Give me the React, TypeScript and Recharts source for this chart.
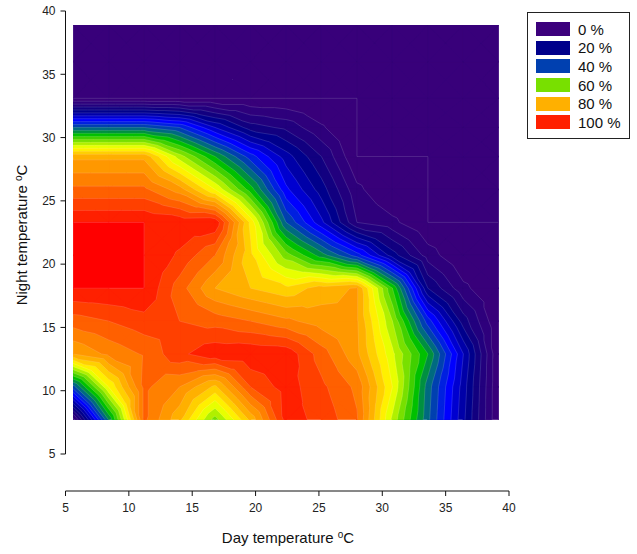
import React from 'react';
import { ScatterChart, Scatter, XAxis, YAxis, Legend } from 'recharts';

const dayTemps = [5.6, 8.4, 11.2, 14, 16.8, 19.6, 22.4, 25.2, 28, 30.8, 33.6, 36.4, 39.2];
const nightTemps = [7.7, 10.3, 12.9, 15.5, 18.1, 20.7, 23.3, 25.9, 28.5, 30.8, 33.1, 36, 38.9];

// response in %, one row per night temperature, bottom row first
const response = [
  [2, 44, 89, 77, 58, 77, 97.5, 95, 88.5, 63, 41, 21, 0],
  [38, 68, 89, 84, 75, 92, 98, 93, 87, 68, 42, 22, 0],
  [80, 85, 88.5, 95, 99, 99.5, 99, 90, 81, 65, 48, 24, 0],
  [90, 92, 94.5, 92, 90.4, 88, 85, 82, 80.5, 60, 34, 14, 0],
  [100, 100, 100, 90, 80, 76, 73, 78, 80.5, 52, 16, 5, 0],
  [100, 100, 100, 95.3, 88, 73, 58, 46, 34, 18, 6, 0, 0],
  [100, 100, 100, 99, 99.5, 71, 40, 25, 8, 5, 0, 0, 0],
  [89, 89, 89, 82, 68, 50, 29, 18, 5, 0, 0, 0, 0],
  [79, 79, 79, 62, 48, 34, 22, 12, 0, 0, 0, 0, 0],
  [40, 40, 40, 36, 24, 14, 11, 4.5, 0, 0, 0, 0, 0],
  [0, 0, 0, 0, 0, 0, 0, 0, 0, 0, 0, 0, 0],
  [0, 0, 0, 0, 0, 0, 0, 0, 0, 0, 0, 0, 0],
  [0, 0, 0, 0, 0, 0, 0, 0, 0, 0, 0, 0, 0],
];

const levels = [0, 4, 8, 12, 16, 20, 24, 28, 32, 36, 40, 44, 48, 52, 56, 60, 64, 68, 72, 76, 80, 84, 88, 92, 96, 100];
const levelColors = [
  '#38007a', '#2e007c', '#22007e', '#120080', '#00008c', '#0000a8', '#0000d0', '#0000ff', '#0020e0',
  '#0040b0', '#006a80', '#009040', '#00c000', '#40d000', '#78e000', '#b0f000', '#e8ff00', '#fff000',
  '#ffd000', '#ffb000', '#ff9800', '#ff8000', '#ff6000', '#ff4000', '#ff2000', '#ff0000',
];

const zeroEdge = [
  { x: 5.6, y: 33.1 }, { x: 28, y: 33.1 }, { x: 28, y: 28.5 }, { x: 33.6, y: 28.5 },
  { x: 33.6, y: 23.3 }, { x: 39.2, y: 23.3 },
];

const xTicks = [5, 10, 15, 20, 25, 30, 35, 40];
const yTicks = [5, 10, 15, 20, 25, 30, 35, 40];
const legendLabels = ['0 %', '20 %', '40 %', '60 %', '80 %', '100 %'];
const legendColors = ['#3c007c', '#00008b', '#0040b0', '#78e000', '#ffb000', '#ff2000'];

type P = { x: number; y: number; z: number };

const triangles: P[][] = [];
for (let r = 0; r < nightTemps.length - 1; r++) {
  for (let c = 0; c < dayTemps.length - 1; c++) {
    const a = { x: dayTemps[c], y: nightTemps[r], z: response[r][c] };
    const b = { x: dayTemps[c + 1], y: nightTemps[r], z: response[r][c + 1] };
    const d = { x: dayTemps[c + 1], y: nightTemps[r + 1], z: response[r + 1][c + 1] };
    const e = { x: dayTemps[c], y: nightTemps[r + 1], z: response[r + 1][c] };
    const m = { x: (a.x + b.x) / 2, y: (a.y + e.y) / 2, z: (a.z + b.z + d.z + e.z) / 4 };
    triangles.push([a, b, m], [b, d, m], [d, e, m], [e, a, m]);
  }
}

const cross = (a: P, b: P, level: number): P => {
  const t = (level - a.z) / (b.z - a.z);
  return { x: a.x + (b.x - a.x) * t, y: a.y + (b.y - a.y) * t, z: level };
};

// part of a triangle at or above a level
const clipAbove = (tri: P[], level: number) => {
  const out: P[] = [];
  tri.forEach((p, i) => {
    const q = tri[(i + 1) % tri.length];
    if (p.z >= level) out.push(p);
    if (p.z >= level !== q.z >= level) out.push(cross(p, q, level));
  });
  return out;
};

const contourOf = (tri: P[], level: number) => {
  const out: P[] = [];
  tri.forEach((p, i) => {
    const q = tri[(i + 1) % tri.length];
    if (p.z < level !== q.z < level) out.push(cross(p, q, level));
  });
  return out.length === 2 ? out : [];
};

// two corners of the grid go first in every band, they give the clip box
const gridCorners = [
  { x: dayTemps[0], y: nightTemps[nightTemps.length - 1], z: 0 },
  { x: dayTemps[dayTemps.length - 1], y: nightTemps[0], z: 0 },
];

const bands = levels.map((level, i) => {
  const next = levels[i + 1] ?? Infinity;
  const sizes: number[] = [];
  const points: P[] = [...gridCorners];
  const lines: P[] = [];
  triangles.forEach((tri) => {
    if (tri.every((p) => p.z >= next)) return;
    const poly = clipAbove(tri, level);
    if (poly.length > 2) {
      sizes.push(poly.length);
      points.push(...poly);
    }
    if (i > 0) lines.push(...contourOf(tri, level));
  });
  return { level, color: levelColors[i], sizes, points, lines };
});

const noDot = () => <g />;

const fillLine = (level: number, sizes: number[], color: string) => (props: any) => {
  const [tl, br] = props.points;
  const left = Math.round(tl.x);
  const top = Math.round(tl.y);
  let at = 2;
  let d = '';
  sizes.forEach((n) => {
    const pts = props.points.slice(at, at + n);
    at += n;
    d += 'M' + pts.map((p: any) => `${p.x},${p.y}`).join('L') + 'Z';
  });
  return (
    <>
      <clipPath id={`grid-clip-${level}`}>
        <rect x={left} y={top} width={Math.round(br.x) - left} height={Math.round(br.y) - top} />
      </clipPath>
      <path d={d} fill={color} stroke={color} strokeWidth={0.3} clipPath={`url(#grid-clip-${level})`} />
    </>
  );
};

const hairLine = (props: any) => {
  let d = '';
  for (let i = 0; i + 1 < props.points.length; i += 2) {
    d += `M${props.points[i].x},${props.points[i].y}L${props.points[i + 1].x},${props.points[i + 1].y}`;
  }
  return <path d={d} fill="none" stroke="#fff" strokeOpacity={0.2} strokeWidth={0.7} />;
};

const LegendBox = () => (
  <div
    style={{
      width: 103,
      height: 127,
      boxSizing: 'border-box',
      border: '1px solid #222',
      background: '#fff',
      paddingTop: 7,
      paddingLeft: 8,
      fontFamily: '"Liberation Sans", Arial, sans-serif',
      fontSize: 15,
      color: '#111',
    }}
  >
    {legendLabels.map((label, i) => (
      <div key={label} style={{ display: 'flex', alignItems: 'center', height: 18.6 }}>
        <span style={{ width: 34, height: 14, background: legendColors[i], marginRight: 8 }} />
        {label}
      </div>
    ))}
  </div>
);

const titleStyle = { fontFamily: '"Liberation Sans", Arial, sans-serif', fontSize: 15, fill: '#111' };

export default function App() {
  return (
    <div style={{ position: 'absolute', left: 0, top: 0 }}>
      {/* the x axis sits apart from the plot */}
      <style>{'.day-axis { transform: translateY(37px); }'}</style>
      <ScatterChart width={637} height={554} margin={{ top: 11, right: 128, bottom: 37, left: 0 }}>
        <XAxis
          xAxisId="day"
          className="day-axis"
          type="number"
          dataKey="x"
          domain={[5, 40]}
          ticks={xTicks}
          interval={0}
          height={63}
          stroke="#111"
          tickSize={5}
          tickMargin={44}
          tick={{ fontFamily: '"Liberation Sans", Arial, sans-serif', fontSize: 12, fill: '#222' }}
        />
        <YAxis
          yAxisId="night"
          type="number"
          dataKey="y"
          domain={[5, 40]}
          ticks={yTicks}
          interval={0}
          width={65.5}
          stroke="#111"
          tickSize={5}
          tickMargin={5}
          tick={{ fontFamily: '"Liberation Sans", Arial, sans-serif', fontSize: 12, fill: '#222' }}
        />
        {bands.map((band) => (
          <Scatter
            key={`fill-${band.level}`}
            xAxisId="day"
            yAxisId="night"
            data={band.points}
            shape={noDot}
            line={fillLine(band.level, band.sizes, band.color)}
            isAnimationActive={false}
          />
        ))}
        {bands.map((band) => (
          <Scatter
            key={`line-${band.level}`}
            xAxisId="day"
            yAxisId="night"
            data={band.lines}
            shape={noDot}
            line={hairLine}
            isAnimationActive={false}
          />
        ))}
        <Scatter
          xAxisId="day"
          yAxisId="night"
          data={zeroEdge}
          shape={noDot}
          line={{ stroke: '#fff', strokeOpacity: 0.2, strokeWidth: 0.7 }}
          isAnimationActive={false}
        />
        <Legend
          layout="vertical"
          align="center"
          verticalAlign="middle"
          content={LegendBox}
          wrapperStyle={{ left: 527, top: 12, width: 103, height: 127 }}
        />
        <text x={288} y={543} textAnchor="middle" style={titleStyle}>
          Day temperature <tspan dy={-5} fontSize={10}>o</tspan>
          <tspan dy={5}>C</tspan>
        </text>
        <text x={0} y={0} transform="translate(27,235) rotate(-90)" textAnchor="middle" style={titleStyle}>
          Night temperature <tspan dy={-5} fontSize={10}>o</tspan>
          <tspan dy={5}>C</tspan>
        </text>
      </ScatterChart>
    </div>
  );
}
